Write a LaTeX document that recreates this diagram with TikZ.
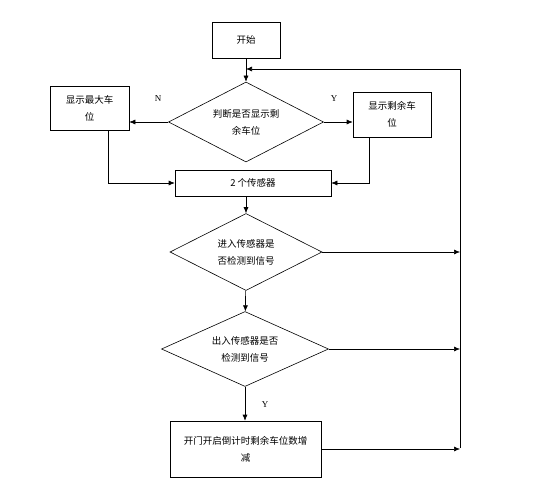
\documentclass[tikz,border=0pt]{standalone}
\usepackage{fontspec}
\setmainfont{Liberation Serif}
\newfontfamily\cjk{Noto Sans CJK SC}
\usepackage{tikz}
\usetikzlibrary{arrows.meta, positioning, shapes.geometric}

\begin{document}
\begin{tikzpicture}[
    x=1pt, y=-1pt,
    >={Latex[length=6pt, width=5pt]},
    line width=0.6pt,
    font=\cjk\fontsize{9.5}{17}\selectfont,
    box/.style={
        draw,
        align=center,
        inner sep=2pt
    },
    decision/.style={
        draw,
        diamond,
        aspect=2,
        inner sep=0pt,
        align=center
    },
    tag/.style={
        font=\fontsize{9}{10}\selectfont
    }
]
\useasboundingbox (0,0) rectangle (537,500);

% Start and first decision
\node[box, minimum width=68, minimum height=36] (start) at (246,40) {开始};
\node[decision, minimum width=155, minimum height=80] (show) at (246,122)
{判断是否显示剩\\余车位};

% Display boxes
\node[box, minimum width=79, minimum height=44] (maxpos) at (89.5,108)
{显示最大车\\位};
\node[box, minimum width=78, minimum height=45] (rempos) at (392,114.5)
{显示剩余车\\位};

% Sensors and checks
\node[box, minimum width=156, minimum height=26] (sensor) at (253,183) {2 个传感器};
\node[decision, minimum width=152, minimum height=77] (enter) at (246,252)
{进入传感器是\\否检测到信号};
\node[decision, minimum width=167, minimum height=75] (leave) at (245,349)
{出入传感器是否\\检测到信号};
\node[box, minimum width=151, minimum height=56] (gate) at (245.5,449)
{开门开启倒计时剩余车位数增\\减};

% Labels
\node[tag] (no) at (158,99) {N};
\node[tag] (yes) at (334,99) {Y};
\node[tag] (yes2) at (265,405) {Y};

% Return line
\coordinate (railtop) at (460,69);
\coordinate (railbot) at (460,448);

% Connectors
\draw[->] (start) -- (show);
\draw[->] (show.west) -- (maxpos.east |- show.west);
\draw[->] (show.east) -- (rempos.west |- show.east);
\draw[->] ([xshift=18.5pt]maxpos.south) |- (sensor.west);
\draw[->] ([xshift=-23pt]rempos.south) |- (sensor.east);
\draw[->] (sensor.south -| enter.north) -- (enter);
\draw[->] (enter) -- (leave);
\draw[->] (leave) -- (gate.north -| leave.south);
\draw[->] (enter.east) -- (enter.east -| railtop);
\draw[->] (leave.east) -- (leave.east -| railtop);
\draw[->] (gate.east) -- (gate.east -| railtop);
\draw[->] (railbot) -- (railtop) -- (start.south |- railtop);

\end{tikzpicture}
\end{document}
